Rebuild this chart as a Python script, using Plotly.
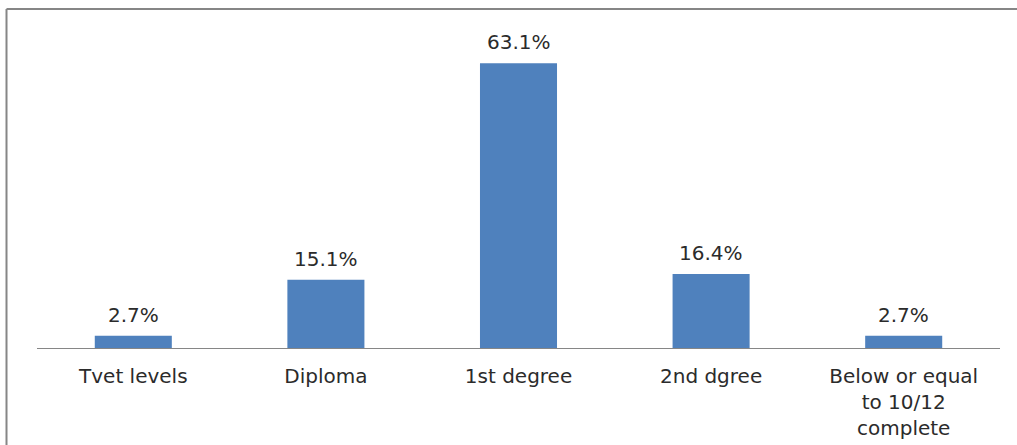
import plotly.graph_objects as go

# Education level distribution
categories = ["Tvet levels", "Diploma", "1st degree", "2nd dgree", "Below or equal<br>to 10/12<br>complete"]
shares = [2.7, 15.1, 63.1, 16.4, 2.7]
value_labels = [f"{v:.1f}%" for v in shares]

FONT = "DejaVu Sans"
TEXT_COLOR = "#2b2b2b"
GRID_GRAY = "#868686"

W, H = 1017, 445
ML, MR, MT, MB = 37, 17, 32, 97

fig = go.Figure(
    go.Bar(
        x=categories,
        y=shares,
        marker=dict(color="#4F81BD", line=dict(width=0)),
        hoverinfo="skip",
    )
)

# value labels above each bar
for cat, val, lab in zip(categories, shares, value_labels):
    fig.add_annotation(
        x=cat, y=val, text=lab, showarrow=False,
        yanchor="bottom", yshift=7,
        font=dict(family=FONT, size=20, color=TEXT_COLOR),
    )

# chart frame (only the top and left edges fall inside the page)
pw, ph = W - ML - MR, H - MT - MB
fx0 = (6.5 - ML) / pw
fy1 = (H - MB - 9) / ph
fig.add_shape(type="line", xref="paper", yref="paper", x0=fx0, x1=1.2, y0=fy1, y1=fy1,
              line=dict(color=GRID_GRAY, width=2))
fig.add_shape(type="line", xref="paper", yref="paper", x0=fx0, x1=fx0, y0=fy1, y1=-0.5,
              line=dict(color=GRID_GRAY, width=2))

fig.update_layout(
    width=W, height=H,
    margin=dict(l=ML, r=MR, t=MT, b=MB, autoexpand=False),
    paper_bgcolor="white", plot_bgcolor="white",
    bargap=0.6,
    showlegend=False,
    font=dict(family=FONT, size=20, color=TEXT_COLOR),
)
fig.update_xaxes(
    showline=True, linecolor=GRID_GRAY, linewidth=1,
    ticks="", showgrid=False, automargin=False,
    tickfont=dict(family=FONT, size=20, color=TEXT_COLOR),
    ticklabelstandoff=10,
)
fig.update_yaxes(range=[0, 70], visible=False, showgrid=False, zeroline=False)

fig.write_html("out.html")
